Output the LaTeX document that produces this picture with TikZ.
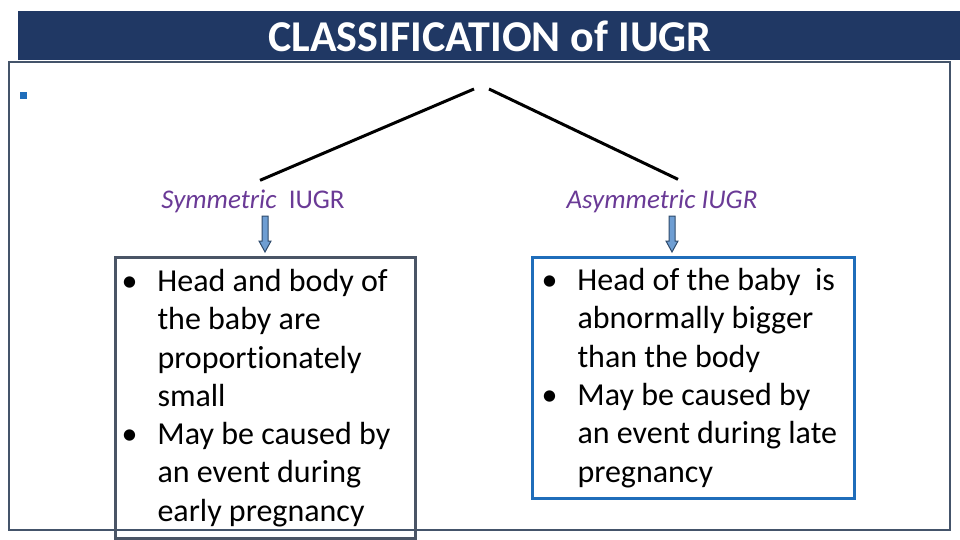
\documentclass[tikz,border=0pt]{standalone}
\usepackage{fontspec}
\setmainfont{Carlito}[Ligatures=NoCommon]
\usepackage{tikz}
\tikzset{>=latex}
\definecolor{titlebar}{HTML}{203864}
\definecolor{framecol}{HTML}{44546A}
\definecolor{labelcol}{HTML}{6A3A96}
\definecolor{symbox}{HTML}{4A5566}
\definecolor{asymbox}{HTML}{1F6DBA}
\definecolor{arrowfill}{HTML}{6E9ED3}
\definecolor{arrowline}{HTML}{2E4A6B}
\newcommand{\bulletitem}[1]{\par\hangindent=36pt\hangafter=1\noindent\makebox[36pt][l]{\textbullet}#1}
\tikzset{
  typebox/.style={draw, line width=3pt, anchor=north west, inner sep=0pt, align=left,
    font=\fontsize{32}{38.3}\selectfont},
  typelabel/.style={text=labelcol, font=\fontsize{27}{32}\selectfont, inner sep=0pt},
  downarrow/.style={draw=arrowline, fill=arrowfill, line width=1pt, line join=miter},
  branch/.style={line width=3pt}
}

\begin{document}
\begin{tikzpicture}[x=1pt, y=-1pt]
                \useasboundingbox (0, 0) rectangle (960, 540);
                \fill[titlebar] (18, 11) rectangle (960, 60);
                \node[text=white, font=\fontsize{44}{48}\bfseries] (title) at (490, 36) {CLASSIFICATION of IUGR};
                \draw[framecol, line width=1.5pt] (9, 62) rectangle (950, 530);
                \fill[asymbox] (20, 92) rectangle (27, 99);
                % the two types
                \node[typelabel] (sym) at (253, 201) {\itshape Symmetric\/\upshape\ \ IUGR};
                \node[typelabel] (asym) at (662, 201) {\itshape Asymmetric IUGR};
                \coordinate (symtop) at (474, 89);
                \coordinate (asymtop) at (489, 89);
                \draw[branch] (symtop) -- ([xshift=7pt, yshift=9pt]sym.north);
                \draw[branch] (asymtop) -- ([xshift=16pt, yshift=10pt]asym.north);
                % boxes
                \node[typebox, draw=symbox, minimum width=300pt, minimum height=281pt] (symdesc) at (114, 256)
                  {\parbox{288pt}{\raggedright\bulletitem{Head and body of\newline the baby are\newline proportionately\newline small}\bulletitem{May be caused by\newline an event during\newline early pregnancy}}};
                \node[typebox, draw=asymbox, minimum width=322pt, minimum height=241pt] (asymdesc) at (531, 256)
                  {\parbox{304pt}{\raggedright\bulletitem{Head of the baby\ \ is\newline abnormally bigger\newline than the body}\bulletitem{May be caused by\newline an event during late\newline pregnancy}}};
                % block arrows from label to box
                \coordinate (symarrow) at (265, 216);
                \coordinate (asymarrow) at (672, 216);
                \foreach \a in {symarrow, asymarrow}
                  \draw[downarrow] (\a) ++(-3, 0) -- ++(6, 0) -- ++(0, 25) -- ++(3, 0)
                    -- ++(-6, 11) -- ++(-6, -11) -- ++(3, 0) -- cycle;
            \end{tikzpicture}
\end{document}
